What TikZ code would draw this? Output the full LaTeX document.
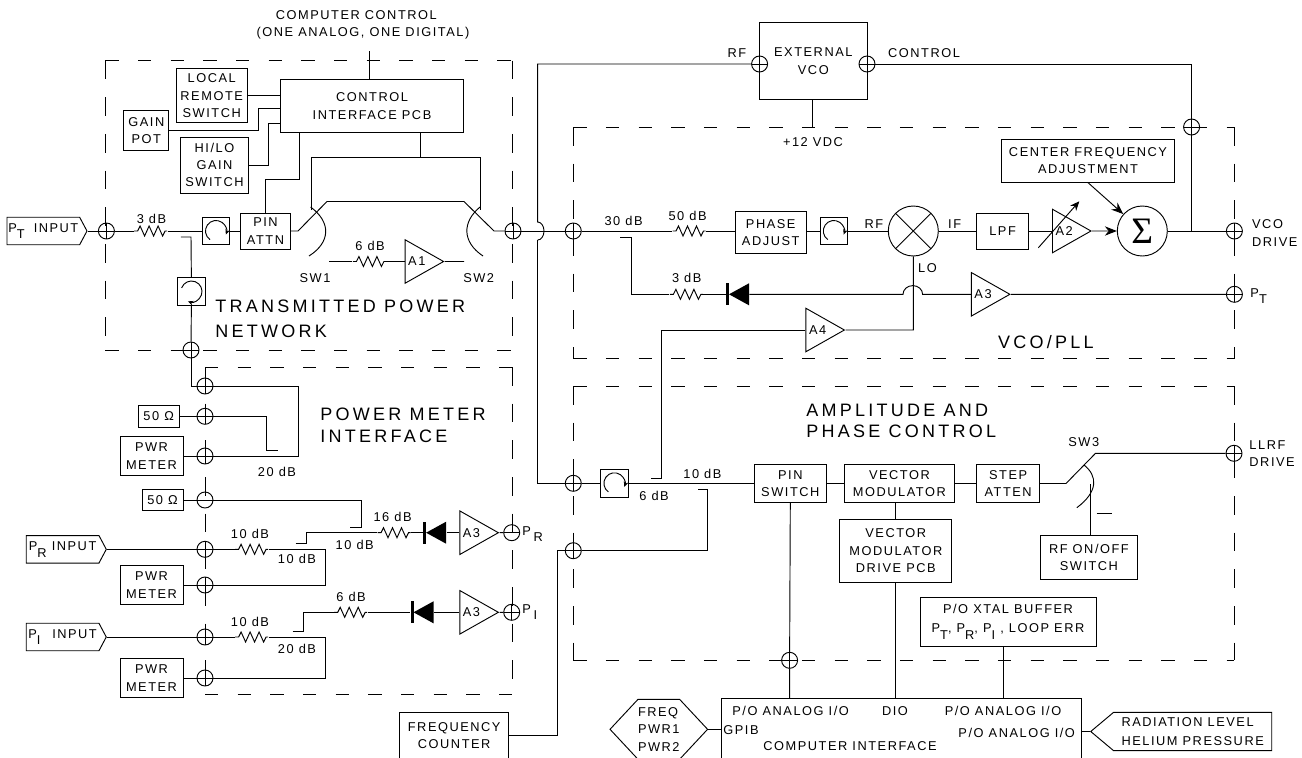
\documentclass[tikz,border=0pt]{standalone}
\usepackage{fontspec}
\setmainfont[LetterSpace=12]{Liberation Sans}
\newfontfamily\titlefont[LetterSpace=18]{Liberation Sans}
\newfontfamily\sigmafont{Liberation Serif}
\usetikzlibrary{shapes.geometric,shapes.symbols,arrows.meta}
\def\pxu{0.75pt}
\newcommand{\subs}[1]{\raisebox{-5pt}{#1}}
\tikzset{
    blk/.style={draw, inner sep=0pt, align=center, font=\fontsize{9.6pt}{13pt}\selectfont},
    lab/.style={inner sep=0pt, align=center, font=\fontsize{9.6pt}{13pt}\selectfont},
    title/.style={inner sep=0pt, align=left, anchor=west, font=\titlefont\fontsize{13.5pt}{16.5pt}\selectfont},
    dashh/.style={draw, dash pattern=on 10pt off 14.5pt, line width=0.7pt},
    dashv/.style={draw, dash pattern=on 14pt off 13.5pt, line width=0.7pt},
    conn/.style={circle, draw, inner sep=0pt, minimum size=16*\pxu, path picture={
        \draw (path picture bounding box.north) -- (path picture bounding box.south);
        \draw (path picture bounding box.west) -- (path picture bounding box.east);}},
    connh/.style={circle, draw, inner sep=0pt, minimum size=16*\pxu, path picture={
        \draw (path picture bounding box.west) -- (path picture bounding box.east);}},
    res/.style={inner sep=0pt, minimum width=33*\pxu, minimum height=14*\pxu, path picture={
        \draw (path picture bounding box.west) -- ++(3.5,0) -- ++(2.5,-5) -- ++(4.5,10) -- ++(4.5,-10)
            -- ++(4.5,10) -- ++(4.5,-10) -- ++(4.5,10) -- ++(2.5,-5) -- ++(2,0);}},
    diode/.style={inner sep=0pt, minimum width=23*\pxu, minimum height=22*\pxu, path picture={
        \fill (path picture bounding box.north west) rectangle ++(3,22);
        \fill (path picture bounding box.west) ++(3,0) -- (path picture bounding box.north east)
            -- (path picture bounding box.south east) -- cycle;}},
    circa/.style 2 args={draw, inner sep=0pt, minimum width=27.5*\pxu, minimum height=27.5*\pxu, path picture={
        \draw[-{Stealth[length=4pt,width=3.5pt]}] (path picture bounding box.center) ++(#1:10.5)
            arc[start angle=#1, delta angle=#2, radius=10.5];}},
    amp/.style={isosceles triangle, isosceles triangle stretches, draw, inner sep=0pt, anchor=west,
        minimum width=43.5*\pxu, minimum height=38.5*\pxu, font=\fontsize{9.6pt}{13pt}\selectfont},
    tag/.style={signal, signal to=east, signal pointer angle=124, draw, inner sep=0pt, anchor=east, minimum width=80*\pxu,
        minimum height=27.5*\pxu, font=\fontsize{9.6pt}{13pt}\selectfont},
}
\begin{document}
\begin{tikzpicture}[x=0.75pt, y=-0.75pt, line width=0.7pt]
    \useasboundingbox (0,0) rectangle (1302,757);
    \clip (0,0) rectangle (1302,757);

    % dashed regions
    \foreach \xa/\ya/\xb/\yb in {105.4/60.5/512.4/350, 205/367/512/694, 573.3/127/1234/358.7, 573.3/386/1234/660.3} {
        \draw[dashh] (\xa,\ya) -- (\xb,\ya);
        \draw[dashh] (\xa,\yb) -- (\xb,\yb);
        \draw[dashv] (\xa,\ya) -- (\xa,\yb);
        \draw[dashv] (\xb,\ya) -- (\xb,\yb);
    }

    % transmitted power network
    \node[lab] (cctext) at (363,25) {\hspace*{-10pt}COMPUTER CONTROL\\(ONE ANALOG, ONE DIGITAL)};
    \coordinate (cctop) at (369,51);
    \node[blk, minimum width=183.5*\pxu, minimum height=53*\pxu] (ctrl) at (372,106) {CONTROL\\INTERFACE PCB};
    \node[blk, minimum width=71*\pxu, minimum height=54.5*\pxu] (localsw) at (211.7,95.7) {LOCAL\\REMOTE\\SWITCH};
    \node[blk, minimum width=44.7*\pxu, minimum height=39.5*\pxu] (gain) at (146.3,130.7) {GAIN\\POT};
    \node[blk, minimum width=68.2*\pxu, minimum height=56*\pxu] (hilo) at (214.5,165) {HI/LO\\GAIN\\SWITCH};
    \node[blk, minimum width=49.6*\pxu, minimum height=36*\pxu] (pinat) at (265.5,231) {PIN\\ATTN};
    \node[tag] (ptin) at (87.5,231) {P\subs{T}\hspace*{3pt} INPUT};
    \node[conn] (cptin) at (106.4,231) {};
    \node[res] (rthree) at (150.6,231) {};
    \node[lab] (lthree) at (151.5,218.5) {3 dB};
    \node[circa={125}{255}] (circone) at (216,231) {};
    \node[circa={-160}{270}] (circtwo) at (191.5,291.5) {};
    \node[conn] (cnet) at (191,350) {};
    \node[conn] (cout) at (513,231) {};
    \node[res] (rsix) at (369.4,261.5) {};
    \node[lab] (lsix) at (370,246) {6 dB};
    \node[amp] (aone) at (404.6,261.5) {A1\hspace*{3pt}};
    \node[lab] (swone) at (315,278) {SW1};
    \node[lab] (swtwo) at (478.7,278) {SW2};
    \node[title] (tpn) at (215,306) {TRANSMITTED POWER};
    \node[title] (tpnb) at (215,331) {NETWORK};
    \coordinate (sixin) at (329,261.5);
    \coordinate (sixout) at (464,261.5);
    \coordinate (pina) at (299.6,179.5);
    \coordinate (gaina) at (258,108);
    \coordinate (hiloa) at (268,123.5);
    \coordinate (busl) at (311.6,157);
    \coordinate (busr) at (480.4,157);
    \coordinate (busm) at (420,157);
    \coordinate (buslb) at (311.6,210);
    \coordinate (busrb) at (480.4,210);
    \coordinate (swa) at (298,231);
    \coordinate (swb) at (327,201.5);
    \coordinate (swc) at (464,201.5);
    \coordinate (swd) at (494,231);
    \coordinate (coupa) at (180.8,237);
    \coordinate (coupb) at (191,237);
    \draw (cctop) -- (cctop |- ctrl.north);
    \draw (localsw.east) -- (localsw.east -| ctrl.west);
    \draw (gain.east) -| (gaina) -- (gaina -| ctrl.west);
    \draw (hilo.east) -| (hiloa) -- (hiloa -| ctrl.west);
    \draw (pina |- ctrl.south) -- (pina) -| (pinat.north);
    \draw (busm |- ctrl.south) -- (busm);
    \draw (buslb) -- (busl) -- (busr) -- (busrb);
    \draw (ptin.east) -- (cptin) -- (rthree) -- (circone) -- (pinat);
    \draw (pinat.east) -- (swa) -- (swb) -- (swc) -- (swd) -- (cout);
    \draw (sixin) -- (rsix) -- (aone.west);
    \draw (aone.east) -- (sixout);
    \draw (310.6,207) .. controls (331,222) and (331,242) .. (309,256);
    \draw (480,207) .. controls (462,222) and (462,242) .. (483,256);
    \draw (coupa) -- (coupb) -- (circtwo);
    \draw (circtwo) -- (cnet);

    % power meter interface
    \node[title] (pmi) at (320,414) {POWER METER};
    \node[title] (pmib) at (320,436) {INTERFACE};
    \node[conn] (cpma) at (205,386) {};
    \node[blk, minimum width=41.4*\pxu, minimum height=22*\pxu] (loada) at (158.7,416.3) {50 Ω};
    \node[conn] (cloada) at (205,416.3) {};
    \node[blk, minimum width=63*\pxu, minimum height=38.6*\pxu] (pwra) at (151.5,456) {PWR\\METER};
    \node[conn] (cpwra) at (205,456) {};
    \node[lab] (ltwenty) at (277,471.7) {20 dB};
    \node[blk, minimum width=41*\pxu, minimum height=21.7*\pxu] (loadb) at (162.5,500) {50 Ω};
    \node[connh] (cloadb) at (205,500) {};
    \node[tag] (prin) at (106.8,549.3) {P\subs{R} INPUT};
    \node[conn] (cprin) at (205,549.3) {};
    \node[res] (rpr) at (251.6,549.3) {};
    \node[lab] (lpr) at (250,534) {10 dB};
    \node[lab] (lprb) at (297,558.5) {10 dB};
    \node[lab] (lprc) at (354.7,544.5) {10 dB};
    \node[lab] (lprd) at (392.6,516.5) {16 dB};
    \node[blk, minimum width=63*\pxu, minimum height=38.6*\pxu] (pwrb) at (151.5,585) {PWR\\METER};
    \node[conn] (cpwrb) at (205,585) {};
    \node[res] (rsx) at (394,532.7) {};
    \node[diode] (dpr) at (434.6,532.7) {};
    \node[amp] (apr) at (459.4,532.7) {A3\hspace*{3pt}};
    \node[connh] (cpr) at (511.7,532.7) {};
    \node[lab, anchor=west] (lcpr) at (522,534) {P\hspace*{2pt}\subs{R}};
    \node[tag] (piin) at (106.8,637) {P\subs{I}\hspace*{5pt} INPUT};
    \node[conn] (cpiin) at (205,637) {};
    \node[res] (rpi) at (251.6,637) {};
    \node[lab] (lpi) at (250,622) {10 dB};
    \node[lab] (lpib) at (297,648.5) {20 dB};
    \node[lab] (lpic) at (351,596.5) {6 dB};
    \node[blk, minimum width=63*\pxu, minimum height=38.6*\pxu] (pwrc) at (151.5,678) {PWR\\METER};
    \node[conn] (cpwrc) at (205,678) {};
    \node[res] (rsy) at (350.7,612.3) {};
    \node[diode] (dpi) at (422,612.3) {};
    \node[amp] (api) at (459.4,612.3) {A3\hspace*{3pt}};
    \node[conn] (cpi) at (511.7,612.3) {};
    \node[lab, anchor=west] (lcpi) at (522,612) {P\hspace*{2pt}\subs{I}};
    \coordinate (pmr) at (298,386);
    \coordinate (pmd) at (191,386);
    \coordinate (lda) at (266,416.3);
    \coordinate (ldb) at (277.5,450.7);
    \coordinate (ldc) at (361,500);
    \coordinate (ldd) at (350,527.5);
    \coordinate (prr) at (325.4,549.3);
    \coordinate (pra) at (295.5,543.7);
    \coordinate (prb) at (306,543.7);
    \coordinate (pirr) at (325.4,637);
    \coordinate (pia) at (292.7,631.7);
    \coordinate (pib) at (303.7,631.7);
    \draw (cnet) -- (pmd) -- (cpma);
    \draw (cpma) -- (pmr) |- (cpwra);
    \draw (cpwra) -- (pwra);
    \draw (loada) -- (cloada) -- (lda) |- (ldb);
    \draw (loadb) -- (cloadb) -- (ldc) |- (ldd);
    \draw (prin.east) -- (cprin) -- (rpr) -- (prr) |- (cpwrb);
    \draw (cpwrb) -- (pwrb);
    \draw (pra) -- (prb) |- (rsx);
    \draw (rsx) -- (dpr);
    \draw (dpr) -- (apr.west);
    \draw (apr.east) -- (cpr);
    \draw (piin.east) -- (cpiin) -- (rpi) -- (pirr) |- (cpwrc);
    \draw (cpwrc) -- (pwrc);
    \draw (pia) -- (pib) |- (rsy);
    \draw (rsy) -- (dpi);
    \draw (dpi) -- (api.west);
    \draw (api.east) -- (cpi);

    % external vco
    \node[blk, minimum width=107.4*\pxu, minimum height=76.7*\pxu] (vco) at (813.3,61.3) {EXTERNAL\\VCO};
    \node[conn] (cvcol) at (759.6,64) {};
    \node[conn] (cvcor) at (867,64) {};
    \node[lab] (lrfv) at (737,52.7) {RF};
    \node[lab] (lctl) at (924,52.7) {CONTROL};
    \node[lab] (lvdc) at (813,142) {+12 VDC};
    \coordinate (vdc) at (812,127);
    \coordinate (vsum) at (1191.6,64);
    \coordinate (rfl) at (537.7,64);
    \coordinate (hopa) at (537.7,222);
    \draw (vco.south -| vdc) -- (vdc);
    \draw (cvcol) -- (rfl) -- (hopa) arc[start angle=-90, delta angle=180, x radius=6.3, y radius=9] coordinate (hopb);
    \draw (cvcor) -- (vsum);

    % vco/pll
    \node[title, anchor=center] (tvco) at (1045.8,342.3) {VCO/PLL};
    \node[conn] (cvcoin) at (573.3,231) {};
    \node[lab] (lth) at (623.6,221) {30 dB};
    \node[res] (rfif) at (689,231) {};
    \node[lab] (lfif) at (687.6,216) {50 dB};
    \node[blk, minimum width=71.4*\pxu, minimum height=41.3*\pxu] (phase) at (770.7,232.5) {PHASE\\ADJUST};
    \node[circa={125}{255}] (circthree) at (833.8,231) {};
    \node[lab] (lrfm) at (874,224) {RF};
    \node[circle, draw, inner sep=0pt, minimum size=50*\pxu, path picture={
        \draw (path picture bounding box.north west) -- (path picture bounding box.south east);
        \draw (path picture bounding box.north east) -- (path picture bounding box.south west);}] (mix) at (913.3,231) {};
    \node[lab] (lif) at (954.6,224) {IF};
    \node[blk, minimum width=51.7*\pxu, minimum height=36*\pxu] (lpf) at (1002.6,231.3) {LPF};
    \node[amp] (atwo) at (1052,231) {A2\hspace*{3pt}};
    \node[circle, draw, inner sep=0pt, minimum size=50*\pxu, font=\sigmafont\fontsize{28pt}{28pt}\selectfont] (sum) at (1142.3,231) {Σ};
    \node[blk, minimum width=173.4*\pxu, minimum height=43*\pxu] (cfa) at (1088,160.8) {CENTER FREQUENCY\\ADJUSTMENT};
    \node[conn] (cctl) at (1191.6,127) {};
    \node[conn] (cdrv) at (1234.4,231) {};
    \node[lab, anchor=west, align=left] (ldrv) at (1251.7,233) {VCO\\DRIVE};
    \node[res] (rtd) at (686.4,294.3) {};
    \node[lab] (ltd) at (686.7,278) {3 dB};
    \node[diode] (dpt) at (737.5,294.3) {};
    \node[amp] (athree) at (970.9,294.3) {A3\hspace*{3pt}};
    \node[conn] (cpt) at (1234.4,294.3) {};
    \node[lab, anchor=west] (lpt) at (1250,296) {P\subs{T}};
    \node[lab] (llo) at (927.5,268) {LO};
    \node[amp] (afour) at (805.4,330) {A4\hspace*{3pt}};
    \coordinate (cpla) at (620,237);
    \coordinate (cplb) at (631.5,237);
    \coordinate (hopc) at (903,294.3);
    \coordinate (loj) at (913.3,330);
    \coordinate (lfd) at (661,330);
    \coordinate (lfe) at (650.7,478.3);
    \coordinate (arra) at (1038.4,247.7);
    \coordinate (arrb) at (1079.3,201.3);
    \coordinate (arrc) at (1087.6,182.3);
    \draw (cout) -- (cvcoin) -- (rfif) -- (phase.west |- rfif);
    \draw (phase.east |- circthree) -- (circthree) -- (mix);
    \draw (mix) -- (lpf.west |- mix);
    \draw (lpf.east |- atwo.west) -- (atwo.west);
    \draw[-{Stealth[length=9pt,width=7pt]}] (atwo.east) -- (sum);
    \draw[-{Stealth[length=9pt,width=7pt]}] (arrc) -- (sum);
    \draw[-{Stealth[length=7pt,width=6pt]}] (arra) -- (arrb);
    \draw (sum) -- (cdrv);
    \draw (vsum) -- (cctl) -- (cctl |- sum);
    \draw (cpla) -- (cplb) |- (rtd);
    \draw (rtd) -- (dpt);
    \draw (dpt) -- (hopc) arc[start angle=180, delta angle=180, x radius=9.8, y radius=8.7] -- (athree.west);
    \draw (athree.east) -- (cpt);
    \draw (mix) -- (loj) -- (afour.east);
    \draw (afour.west) -- (lfd) |- (lfe);

    % amplitude and phase control
    \node[title] (tapc) at (805.9,410) {AMPLITUDE AND};
    \node[title] (tapcb) at (805.9,431.7) {PHASE CONTROL};
    \node[conn] (capc) at (573.3,483.3) {};
    \node[circa={125}{255}] (circfour) at (614.4,483.3) {};
    \node[lab] (lten) at (702.4,474) {10 dB};
    \node[lab] (lsx) at (654,495.6) {6 dB};
    \node[blk, minimum width=71.4*\pxu, minimum height=38.4*\pxu] (pinsw) at (790.3,483.5) {PIN\\SWITCH};
    \node[blk, minimum width=109.2*\pxu, minimum height=38.4*\pxu] (vm) at (899.4,483.5) {VECTOR\\MODULATOR};
    \node[blk, minimum width=62.6*\pxu, minimum height=38.4*\pxu] (step) at (1008.1,483.5) {STEP\\ATTEN};
    \node[lab] (lswt) at (1083.7,441.7) {SW3};
    \node[conn] (cllrf) at (1234,453.3) {};
    \node[lab, anchor=west, align=left] (lllrf) at (1249,453.5) {LLRF\\DRIVE};
    \node[blk, minimum width=96.2*\pxu, minimum height=44*\pxu] (rfsw) at (1088.9,557.3) {RF ON/OFF\\SWITCH};
    \node[blk, minimum width=111.8*\pxu, minimum height=63.3*\pxu] (vmd) at (895.8,550.7) {VECTOR\\MODULATOR\\DRIVE PCB};
    \node[blk, minimum width=176*\pxu, minimum height=49*\pxu] (xtal) at (1008,621.8) {P/O XTAL BUFFER\\[1pt]P\subs{T}, P\subs{R}, P\subs{I} , LOOP ERR};
    \node[conn] (cpin) at (789.6,660.3) {};
    \node[conn] (cfc) at (573.3,550.7) {};
    \coordinate (apa) at (537.7,483.3);
    \coordinate (apb) at (1066,483.5);
    \coordinate (apc) at (1095.5,453.3);
    \coordinate (rfa) at (1090,484.3);
    \coordinate (dasha) at (1096.5,513.7);
    \coordinate (dashb) at (1111.8,513.7);
    \coordinate (tena) at (707.3,489.3);
    \coordinate (tenb) at (697.5,489.3);
    \coordinate (fca) at (557,550.7);
    \draw (hopb) -- (apa) -- (capc) -- (circfour);
    \draw (circfour) -- (pinsw.west |- circfour);
    \draw (pinsw) -- (vm);
    \draw (vm) -- (step);
    \draw (step) -- (apb) -- (apc) -- (cllrf);
    \draw (1084,465) .. controls (1098,476) and (1098,492) .. (1076.8,507.7);
    \draw (rfa) -- (rfa |- rfsw.north);
    \draw (dasha) -- (dashb);
    \draw (vm.south -| vmd.north) -- (vmd.north);

    % computer interface
    \node[draw, minimum width=360*\pxu, minimum height=90*\pxu] (cif) at (901.7,743.3) {};
    \node[lab] (lana) at (790.6,711) {P/O ANALOG I/O};
    \node[lab] (ldio) at (895,711) {DIO};
    \node[lab] (lanb) at (1003,711) {P/O ANALOG I/O};
    \node[lab] (lanc) at (1016.7,733) {P/O ANALOG I/O};
    \node[lab] (lgpib) at (741,730) {GPIB};
    \node[lab] (lcif) at (850,746) {COMPUTER INTERFACE};
    \node[signal, signal to=west and east, signal pointer angle=94, draw, inner sep=0pt, minimum width=97*\pxu, minimum height=60*\pxu, align=left, font=\fontsize{9.6pt}{13.2pt}\selectfont] (stat) at (658.8,729.3) {FREQ\\PWR1\\PWR2};
    \node[signal, signal to=west, signal pointer angle=80, draw, inner sep=0pt, anchor=west, minimum width=181*\pxu, minimum height=38.4*\pxu, align=left, font=\fontsize{9.6pt}{13.8pt}\selectfont] (rad) at (1090,731.5) {RADIATION LEVEL\\HELIUM PRESSURE};
    \node[blk, minimum width=109.5*\pxu, minimum height=47*\pxu] (freq) at (454.2,735.7) {FREQUENCY\\COUNTER};
    \draw (pinsw.south) -- (cpin) -- (cpin |- cif.north);
    \draw (vmd.south) -- (vmd.south |- cif.north);
    \draw (xtal.south -| lanb) -- (lanb |- cif.north);
    \draw (stat.east) -- (stat.east -| cif.west);
    \draw (rad.west) -- (rad.west -| cif.east);
    \draw (freq.east) -- (freq.east -| fca) |- (cfc);
    \draw (cfc) -| (tena) -- (tenb);
\end{tikzpicture}
\end{document}
